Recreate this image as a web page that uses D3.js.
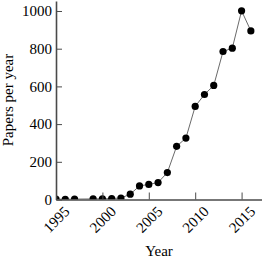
<!DOCTYPE html>
<html>
<head>
<meta charset="utf-8">
<script src="https://cdn.jsdelivr.net/npm/d3@7"></script>
<style>
  body { margin: 0; background: #fff; }
  svg text { font-family: "Liberation Serif", "Times New Roman", serif; font-size: 15px; fill: #000; }
</style>
</head>
<body>
<svg id="chart"></svg>
<script>
const years = [1995, 1996, 1997, 1999, 2000, 2001, 2002, 2003, 2004, 2005, 2006, 2007, 2008, 2009, 2010, 2011, 2012, 2013, 2014, 2015, 2016];
const papers = [2, 1, 2, 3, 4, 5, 8, 28, 72, 80, 90, 143, 282, 326, 494, 557, 605, 785, 803, 1001, 894];
const xTicks = [1995, 2000, 2005, 2010, 2015];
const yTicks = [0, 200, 400, 600, 800, 1000];

const w = 262;
const h = 259;
const padLeft = 56, padRight = 262, padTop = 1, padBottom = 199.5;
const axisColor = "#4a4a4a";

const data = years.map((y, i) => [y, papers[i]]);

const svg = d3.select("#chart")
    .attr("width", w)
    .attr("height", h);

const xScale = d3.scaleLinear()
    .domain([1995, 2017.2])
    .range([padLeft, padRight]);

const yScale = d3.scaleLinear()
    .domain([0, 1053])
    .range([padBottom, padTop]);

svg.append("clipPath")
    .attr("id", "plot")
    .append("rect")
    .attr("x", padLeft)
    .attr("y", padTop)
    .attr("width", padRight - padLeft)
    .attr("height", padBottom - padTop);

const plot = svg.append("g").attr("clip-path", "url(#plot)");

const line = d3.line()
    .x(d => xScale(d[0]))
    .y(d => yScale(d[1]));

plot.append("path")
    .datum(data)
    .attr("d", line)
    .attr("fill", "none")
    .attr("stroke", "#6a6a6a")
    .attr("stroke-width", 1);

plot.selectAll("circle")
    .data(data)
    .enter()
    .append("circle")
    .attr("cx", d => xScale(d[0]))
    .attr("cy", d => yScale(d[1]))
    .attr("r", 3.6)
    .attr("fill", "#000");

// axes: ticks point inward, spines only left and bottom
const xAxis = d3.axisBottom(xScale)
    .tickValues(xTicks)
    .tickFormat(d3.format("d"))
    .tickSizeInner(-7)
    .tickSizeOuter(0);

const gx = svg.append("g")
    .attr("id", "x-axis")
    .attr("transform", `translate(0,${padBottom})`)
    .call(xAxis);

gx.select(".domain").attr("stroke", axisColor).attr("stroke-width", 1.6);
gx.selectAll(".tick line").attr("stroke", axisColor).attr("stroke-width", 1);
gx.selectAll(".tick text")
    .attr("y", 0)
    .attr("dy", null)
    .attr("transform", "translate(0,20) rotate(-45)")
    .attr("dominant-baseline", "central")
    .style("text-anchor", "middle")
    .style("font-size", "15px");

const yAxis = d3.axisLeft(yScale)
    .tickValues(yTicks)
    .tickFormat(d3.format("d"))
    .tickSizeInner(-6)
    .tickSizeOuter(0)
    .tickPadding(4);

const gy = svg.append("g")
    .attr("id", "y-axis")
    .attr("transform", `translate(${padLeft},0)`)
    .call(yAxis);

gy.select(".domain").attr("stroke", axisColor).attr("stroke-width", 1.6);
gy.selectAll(".tick line").attr("stroke", axisColor).attr("stroke-width", 1);
gy.selectAll(".tick text")
    .attr("x", -4)
    .style("font-size", "15px");

svg.append("text")
    .attr("x", (padLeft + padRight) / 2)
    .attr("y", 256)
    .attr("text-anchor", "middle")
    .text("Year");

svg.append("text")
    .attr("transform", "rotate(-90)")
    .attr("x", -100)
    .attr("y", 13)
    .attr("text-anchor", "middle")
    .text("Papers per year");
</script>
</body>
</html>
